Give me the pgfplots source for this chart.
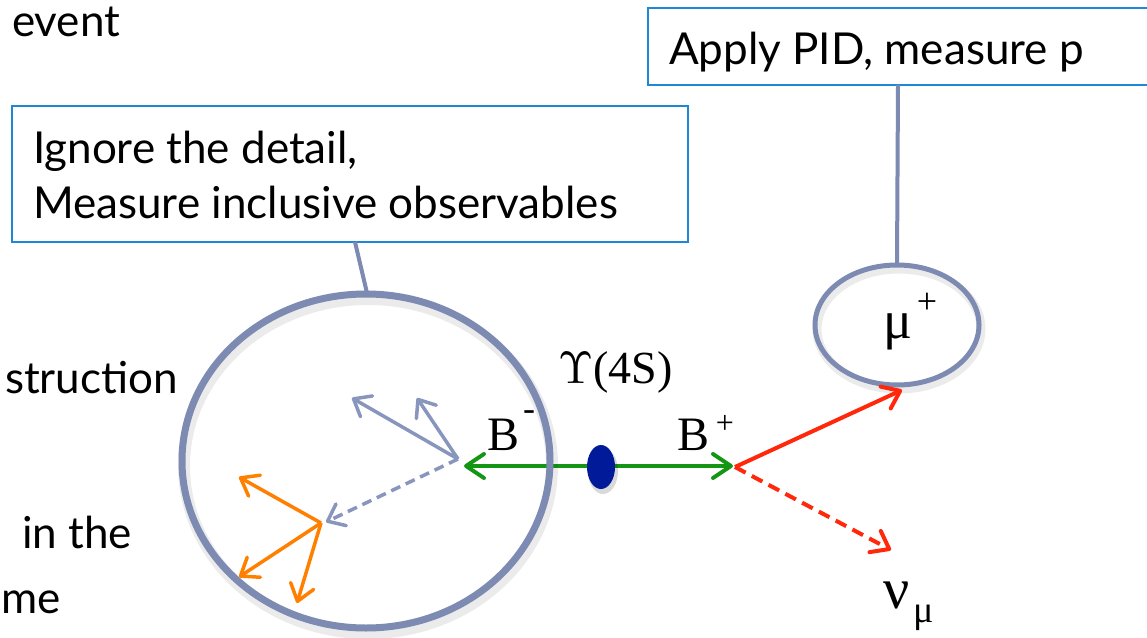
\documentclass[border=0pt]{standalone}
\usepackage{pgfplots}
\pgfplotsset{compat=1.18}
\usepackage{fontspec}
\setmainfont{Lato}
\newfontfamily\serif{Liberation Serif}
\usetikzlibrary{arrows.meta}
\definecolor{boxblue}{RGB}{30,136,214}
\definecolor{ringgray}{RGB}{125,138,178}
\definecolor{arrgray}{RGB}{136,150,190}
\definecolor{bgreen}{RGB}{20,150,20}
\definecolor{dotblue}{RGB}{0,26,153}
\definecolor{bred}{RGB}{255,40,10}
\definecolor{borange}{RGB}{255,128,0}
\begin{document}
\begin{tikzpicture}[every node/.style={inner sep=0pt,outer sep=0pt}]
\useasboundingbox (0,0) rectangle (1147bp,638bp);
\clip (0,0) rectangle (1147bp,638bp);
\begin{axis}[width=1147bp,height=638bp,scale only axis,at={(0,0)},anchor=south west,
  xmin=0,xmax=1147,ymin=0,ymax=638,y dir=reverse,hide axis,clip=false]
% boxes
\draw[boxblue,line width=2.5bp,fill=white] (axis cs:648,8) rectangle (axis cs:1170,85);
\draw[boxblue,line width=2.5bp,fill=white] (axis cs:12,106) rectangle (axis cs:688,242);
\node[anchor=base west,font=\fontsize{44bp}{48bp}\selectfont] at (axis cs:669,65) {Apply PID, measure p};
\node[anchor=base west,font=\fontsize{44bp}{48bp}\selectfont] at (axis cs:33,163) {Ignore the detail,};
\node[anchor=base west,font=\fontsize{44bp}{48bp}\selectfont] at (axis cs:33,218) {Measure inclusive observables};
% left text
\node[anchor=base west,font=\fontsize{44bp}{48bp}\selectfont] at (axis cs:12,37) {event};
\node[anchor=base east,font=\fontsize{44bp}{48bp}\selectfont] at (axis cs:178,393) {struction};
\node[anchor=base east,font=\fontsize{44bp}{48bp}\selectfont] at (axis cs:132,548) {in the};
\node[anchor=base west,font=\fontsize{44bp}{48bp}\selectfont] at (axis cs:1,613) {me};
% connectors
\addplot[ringgray,line width=4bp] coordinates {(898,85) (897,263)};
\addplot[ringgray,line width=4bp] coordinates {(355,242) (367,293)};
% green arrows
\addplot[bgreen,line width=4bp,-{Straight Barb[length=18bp,width=24bp,round]}] coordinates {(600,466) (464,466)};
\addplot[bgreen,line width=4bp,-{Straight Barb[length=18bp,width=24bp,round]}] coordinates {(600,466) (733,466)};
% shadows
\draw[black,opacity=0.08,line width=12bp] (axis cs:368,466) ellipse [x radius=184bp, y radius=167bp];
\draw[black,opacity=0.08,line width=9bp] (axis cs:899,329) ellipse [x radius=82bp, y radius=60bp];
% rings
\draw[ringgray,line width=7bp] (axis cs:366,461) ellipse [x radius=184bp, y radius=167bp];
\draw[ringgray,line width=5bp] (axis cs:897,325) ellipse [x radius=82bp, y radius=60bp];
% dot
\fill[black,opacity=0.15] (axis cs:603,471) ellipse [x radius=15bp, y radius=23bp];
\fill[dotblue] (axis cs:601,467) ellipse [x radius=14bp, y radius=22bp];
% gray arrows
\addplot[arrgray,line width=3.5bp,-{Straight Barb[length=15bp,width=24bp,round]}] coordinates {(458,459) (352,398)};
\addplot[arrgray,line width=3.5bp,-{Straight Barb[length=15bp,width=24bp,round]}] coordinates {(458,459) (417,398)};
\addplot[arrgray,line width=3.5bp,dash pattern=on 10bp off 6bp,-{Straight Barb[length=15bp,width=24bp,round]}] coordinates {(458,459) (326,522)};
% orange arrows
\addplot[borange,line width=3.5bp,-{Straight Barb[length=16bp,width=24bp,round]}] coordinates {(321,523) (239,477)};
\addplot[borange,line width=3.5bp,-{Straight Barb[length=16bp,width=24bp,round]}] coordinates {(321,523) (239,577)};
\addplot[borange,line width=3.5bp,-{Straight Barb[length=16bp,width=24bp,round]}] coordinates {(321,523) (297,603)};
% red arrows
\addplot[bred,line width=4bp,-{Straight Barb[length=16bp,width=24bp,round]}] coordinates {(735,467) (902,390)};
\addplot[bred,line width=4bp,dash pattern=on 12bp off 7bp,-{Straight Barb[length=16bp,width=24bp,round]}] coordinates {(735,467) (891,550)};
% serif labels
\node[anchor=base west] at (axis cs:558,383) {\resizebox{!}{31bp}{$\Upsilon$}\serif\fontsize{46bp}{50bp}\selectfont(4S)};
\node[anchor=base west,font=\serif\fontsize{48bp}{52bp}\selectfont] at (axis cs:487,450) {B};
\node[anchor=base west,font=\serif\fontsize{36bp}{40bp}\selectfont] at (axis cs:523,420) {-};
\node[anchor=base west,font=\serif\fontsize{48bp}{52bp}\selectfont] at (axis cs:677,450) {B};
\node[anchor=center,font=\serif\fontsize{32bp}{36bp}\selectfont] at (axis cs:725,424) {+};
\node[anchor=base west,font=\serif\fontsize{54bp}{58bp}\selectfont] at (axis cs:883,338) {μ};
\node[anchor=center,font=\serif\fontsize{36bp}{40bp}\selectfont] at (axis cs:927,303) {+};
\node[anchor=base west,font=\serif\fontsize{58bp}{62bp}\selectfont] at (axis cs:883,608) {ν};
\node[anchor=base west,font=\serif\fontsize{38bp}{42bp}\selectfont] at (axis cs:913,622) {μ};
\end{axis}
\end{tikzpicture}
\end{document}
